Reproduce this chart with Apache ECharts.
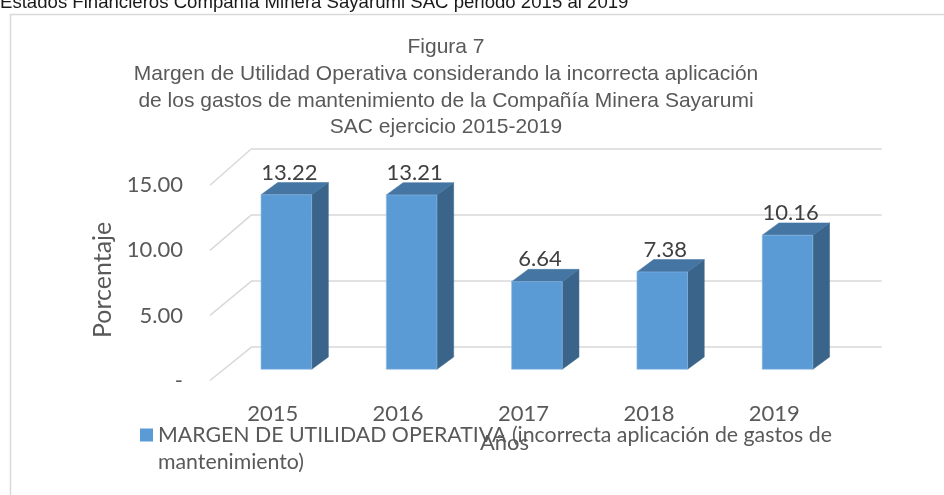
<!DOCTYPE html>
<html>
<head>
<meta charset="utf-8">
<script src="https://cdn.jsdelivr.net/npm/echarts@6/dist/echarts.min.js"></script>
<style>
html,body{margin:0;padding:0;background:#fff;}
#chart{width:944px;height:495px;}
</style>
</head>
<body>
<div id="chart"></div>
<script>
// ---- data ----
const categories = ['2015', '2016', '2017', '2018', '2019'];
const values = [13.22, 13.21, 6.64, 7.38, 10.16];
const yTicks = [0, 5, 10, 15];
const yMin = 0, yMax = 15, yInterval = 5;
const seriesName = 'MARGEN DE UTILIDAD OPERATIVA (incorrecta aplicación de gastos de mantenimiento)';
const titleLines = [
  'Figura 7',
  'Margen de Utilidad Operativa considerando la incorrecta aplicación',
  'de los gastos de mantenimiento de la Compañía Minera Sayarumi',
  'SAC ejercicio 2015-2019'
];
const headerText = 'Estados Financieros Compañía Minera Sayarumi SAC periodo 2015 al 2019';
const xAxisName = 'Años';
const yAxisName = 'Porcentaje';

// ---- layout / style ----
const gBack = {left: 252, top: 148.3, width: 629.7, height: 198.4};
const gBar = {left: 223.7, top: 171.3, width: 626.5, height: 198};
const gFront = {left: 210, top: 185.3, width: 627, height: 195.2};
const DX = 16.7, DY = 12.3, BAR_RATIO = 0.404;
const FONT = 'Lato, "Open Sans", sans-serif';
const gridColor = '#d9d9d9';

const chart = echarts.init(document.getElementById('chart'), null, {renderer: 'canvas'});

function backY(v) {
  try {
    return chart.convertToPixel({xAxisIndex: 0, yAxisIndex: 0}, [0, v])[1];
  } catch (e) {
    return gBack.top + gBack.height * (1 - (v - yMin) / (yMax - yMin));
  }
}

const option = {
  backgroundColor: '#fff',
  animation: false,
  title: {
    text: titleLines.join('\n'),
    left: 446, top: 34.3, textAlign: 'center', padding: 0,
    textStyle: {fontFamily: '"Liberation Sans", Arial, sans-serif', fontSize: 21, fontWeight: 'normal', color: '#595959', lineHeight: 26.6}
  },
  graphic: [
    {type: 'rect', left: 8, top: 12, shape: {width: 1000, height: 600}, style: {fill: 'none', stroke: gridColor, lineWidth: 1.5}, silent: true, z: -10},
    {type: 'text', left: 0, top: -7, style: {text: headerText, font: '18.6px "Liberation Sans", Arial, sans-serif', fill: '#1a1a1a'}}
  ],
  legend: {
    data: [seriesName],
    left: 140, top: 394.5, padding: 0,
    icon: 'rect', itemWidth: 13, itemHeight: 13,
    formatter: name => '\n' + name.replace('gastos de ', 'gastos de\n'),
    textStyle: {fontFamily: FONT, fontSize: 21.3, color: '#595959', lineHeight: 27}
  },
  grid: [
    Object.assign({containLabel: false}, gBack),
    Object.assign({containLabel: false}, gBar),
    Object.assign({containLabel: false}, gFront)
  ],
  xAxis: [
    {type: 'category', gridIndex: 0, data: categories, show: false},
    {type: 'category', gridIndex: 1, data: categories, show: false},
    {type: 'category', gridIndex: 2, data: categories,
     axisLine: {show: false}, axisTick: {show: false},
     axisLabel: {fontFamily: FONT, fontSize: 22, color: '#595959', margin: 22},
     name: xAxisName, nameLocation: 'middle', nameGap: 51,
     nameTextStyle: {fontFamily: FONT, fontSize: 22, color: '#595959', padding: [0, 38, 0, 0]}}
  ],
  yAxis: [
    {type: 'value', gridIndex: 0, min: yMin, max: yMax, interval: yInterval,
     axisLabel: {show: false}, axisLine: {show: false}, axisTick: {show: false},
     splitLine: {show: true, lineStyle: {color: gridColor, width: 1.5}}},
    {type: 'value', gridIndex: 1, min: yMin, max: yMax, interval: yInterval, show: false, splitLine: {show: false}},
    {type: 'value', gridIndex: 2, min: yMin, max: yMax, interval: yInterval,
     axisLine: {show: false}, axisTick: {show: false}, splitLine: {show: false},
     axisLabel: {fontFamily: FONT, fontSize: 22, color: '#595959', margin: 27,
       formatter: v => v === 0 ? '-' : v.toFixed(2)},
     name: yAxisName, nameLocation: 'middle', nameGap: 95, nameRotate: 90,
     nameTextStyle: {fontFamily: FONT, fontSize: 25, color: '#595959', padding: [0, 0, 0, 6]}}
  ],
  series: [
    {
      type: 'custom', name: 'grid-diagonals', xAxisIndex: 2, yAxisIndex: 2, silent: true,
      data: yTicks.map(v => [0, v]),
      renderItem: (params, api) => {
        const v = api.value(1);
        const fy = api.coord([0, v])[1];
        const fx = params.coordSys.x;
        return {type: 'line', shape: {x1: fx, y1: fy, x2: gBack.left, y2: backY(v)},
                style: {stroke: gridColor, lineWidth: 1.5}};
      },
      z: 1
    },
    {
      type: 'custom', name: seriesName, xAxisIndex: 1, yAxisIndex: 1,
      itemStyle: {color: '#5B9BD5'},
      data: values.map((v, i) => [i, v]),
      renderItem: (params, api) => {
        const i = api.value(0), v = api.value(1);
        const base = api.coord([i, 0]);
        const top = api.coord([i, v]);
        const bw = api.size([1, 0])[0] * BAR_RATIO;
        const x0 = base[0] - bw / 2, x1 = x0 + bw;
        return {
          type: 'group',
          children: [
            {type: 'polygon', shape: {points: [[x1, top[1]], [x1 + DX, top[1] - DY], [x1 + DX, base[1] - DY], [x1, base[1]]]},
             style: {fill: '#3A6489', stroke: '#3A6489', lineWidth: 0.5}},
            {type: 'polygon', shape: {points: [[x0, top[1]], [x1, top[1]], [x1 + DX, top[1] - DY], [x0 + DX, top[1] - DY]]},
             style: {fill: '#4575A3', stroke: '#4575A3', lineWidth: 0.5}},
            {type: 'rect', shape: {x: x0, y: top[1], width: bw, height: base[1] - top[1]},
             style: {fill: '#5B9BD5', stroke: '#8DB8E2', lineWidth: 0.6}},
            {type: 'text', x: base[0] + 3, y: top[1] - DY + 1,
             style: {text: v.toFixed(2), font: '22px ' + FONT, fill: '#404040', align: 'center', verticalAlign: 'bottom'}}
          ]
        };
      },
      z: 3
    }
  ]
};
chart.setOption(option);
</script>
</body>
</html>
